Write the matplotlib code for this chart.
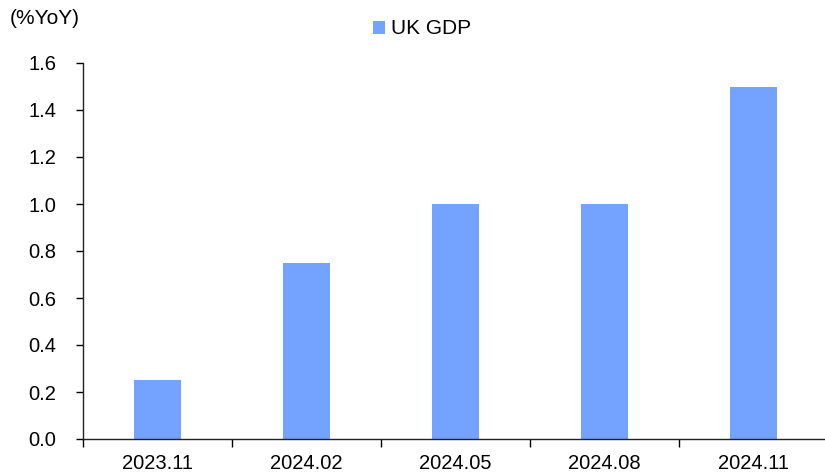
import matplotlib
matplotlib.use("Agg")
import matplotlib.pyplot as plt
from matplotlib.patches import Patch
import numpy as np

plt.rcParams['font.family'] = ['Liberation Sans', 'DejaVu Sans']

categories = ["2023.11", "2024.02", "2024.05", "2024.08", "2024.11"]
gdp_yoy = [0.25, 0.75, 1.0, 1.0, 1.5]
series_name = "UK GDP"
unit_label = "(%YoY)"

bar_color = "#73A2FF"

fig = plt.figure(figsize=(8.25, 4.75), dpi=100)
ax = fig.add_axes([83 / 825, 1 - 439 / 475, 745 / 825, (439 - 63) / 475])

x = np.arange(len(categories))
ax.bar(x, gdp_yoy, width=0.32, color=bar_color, zorder=2)

ax.set_xlim(-0.5, len(categories) - 0.5)
ax.set_ylim(0, 1.6)
yticks = np.arange(0, 1.61, 0.2)
ax.set_yticks(yticks)
ax.set_yticklabels([f"{v:.1f}" for v in yticks])

# category labels centred under bars, tick marks between categories
ax.set_xticks(np.arange(-0.5, len(categories), 1.0))
ax.set_xticklabels([])
ax.set_xticks(x, minor=True)
ax.set_xticklabels(categories, minor=True)
ax.tick_params(axis='x', which='minor', length=0, pad=11, labelsize=14.5)
ax.tick_params(axis='x', which='major', length=6, width=1, direction='out')
ax.tick_params(axis='y', length=5, width=1, direction='out', pad=14, labelsize=14.5)

for side in ("top", "right"):
    ax.spines[side].set_visible(False)
for side in ("left", "bottom"):
    ax.spines[side].set_linewidth(1.0)
    ax.spines[side].set_color("#222222")

fig.text(10 / 825, 1 - 18 / 475, unit_label, fontsize=15, va='center', ha='left')

handle = Patch(facecolor=bar_color, edgecolor='none')
fig.legend([handle], [series_name], loc='center', bbox_to_anchor=(422 / 825, 1 - 29 / 475),
           frameon=False, fontsize=15, handlelength=0.6, handleheight=0.6,
           handletextpad=0.3)

fig.savefig("out.png", dpi=100)
